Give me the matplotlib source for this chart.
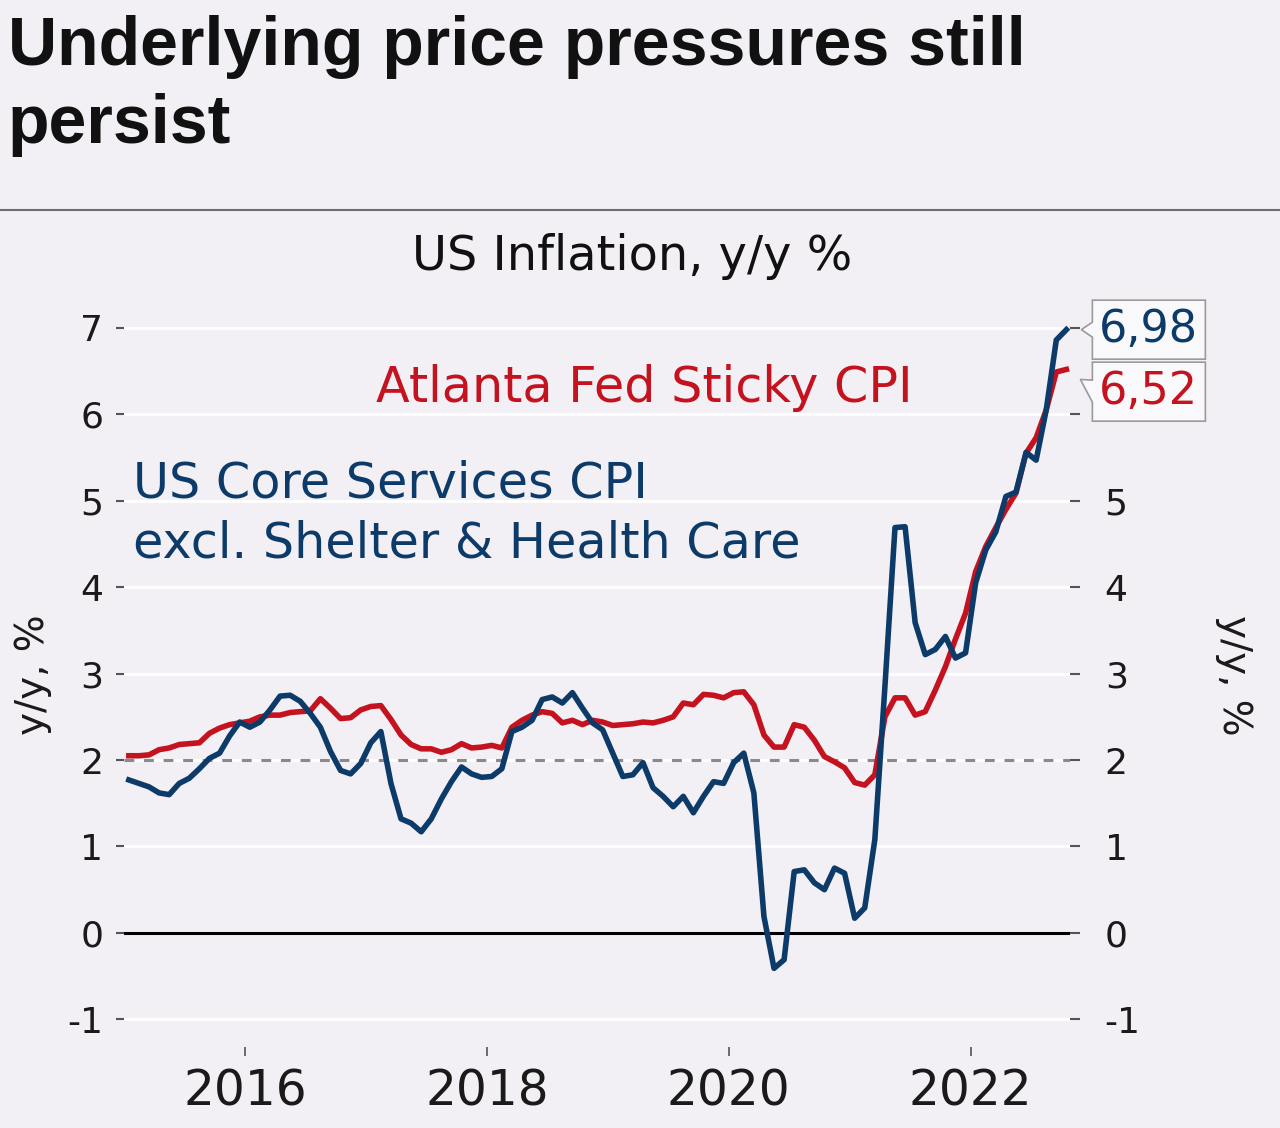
import numpy as np
import pandas as pd
import matplotlib
matplotlib.use('Agg')
import matplotlib.pyplot as plt
from matplotlib.patches import Polygon
from matplotlib.transforms import IdentityTransform

# monthly, Jan 2015 .. Oct 2022
dates = pd.date_range('2015-01-01', periods=94, freq='MS')

core_services = [
    1.77, 1.73, 1.69, 1.62, 1.60, 1.73, 1.79, 1.90, 2.02, 2.08, 2.28, 2.44,
    2.38, 2.44, 2.58, 2.74, 2.75, 2.68, 2.54, 2.38, 2.10, 1.88, 1.84, 1.96,
    2.20, 2.33, 1.73, 1.32, 1.27, 1.17, 1.32, 1.55, 1.75, 1.92, 1.84, 1.80,
    1.81, 1.90, 2.33, 2.38, 2.46, 2.70, 2.73, 2.66, 2.78, 2.60, 2.43, 2.35,
    2.08, 1.81, 1.83, 1.97, 1.68, 1.58, 1.46, 1.58, 1.39, 1.58, 1.75, 1.73,
    1.97, 2.08, 1.62, 0.19, -0.41, -0.31, 0.71, 0.73, 0.58, 0.50, 0.75, 0.69,
    0.17, 0.29, 1.08, 2.85, 4.69, 4.70, 3.59, 3.22, 3.28, 3.43, 3.18, 3.24,
    4.05, 4.43, 4.64, 5.05, 5.10, 5.56, 5.47, 6.05, 6.86, 6.98,
]
sticky_cpi = [
    2.05, 2.05, 2.06, 2.12, 2.14, 2.18, 2.19, 2.20, 2.31, 2.37, 2.41, 2.43,
    2.45, 2.50, 2.52, 2.52, 2.55, 2.56, 2.57, 2.71, 2.60, 2.48, 2.49, 2.58,
    2.62, 2.63, 2.47, 2.29, 2.18, 2.13, 2.13, 2.09, 2.12, 2.19, 2.14, 2.15,
    2.17, 2.14, 2.38, 2.46, 2.52, 2.56, 2.54, 2.43, 2.46, 2.41, 2.46, 2.44,
    2.40, 2.41, 2.42, 2.44, 2.43, 2.46, 2.50, 2.66, 2.64, 2.76, 2.75, 2.72,
    2.78, 2.79, 2.64, 2.29, 2.15, 2.15, 2.41, 2.38, 2.23, 2.04, 1.98, 1.91,
    1.74, 1.71, 1.83, 2.50, 2.72, 2.72, 2.52, 2.56, 2.81, 3.08, 3.40, 3.70,
    4.18, 4.47, 4.69, 4.90, 5.09, 5.55, 5.73, 6.05, 6.49, 6.52,
]
year_ticks = [2016, 2018, 2020, 2022]
y_ticks = [-1, 0, 1, 2, 3, 4, 5, 6, 7]

BG = '#f2f0f4'
BLUE = '#0d3b69'
RED = '#c4121f'
W, H = 1280, 1128

plt.rcParams['font.family'] = 'DejaVu Sans'
plt.rcParams['axes.unicode_minus'] = False

x = dates.year + (dates.month - 1) / 12 + 0.04

fig = plt.figure(figsize=(W / 100, H / 100), dpi=100, facecolor=BG)
ax = fig.add_axes([124 / W, 1 - 1047 / H, 946 / W, 745 / H], facecolor=BG)
ax.set_axisbelow(True)

for s in ax.spines.values():
    s.set_visible(False)

ax.set_xlim(2015.0, 2022.82)
ax.set_ylim(-1.32, 7.3)
ax.set_yticks(y_ticks)
ax.set_xticks(year_ticks)
ax.set_xticklabels([str(y) for y in year_ticks])
ax.grid(axis='y', color='white', lw=2.0)
ax.tick_params(axis='x', length=6.5, width=1.2, color='#555555', pad=8.5,
               labelsize=35, labelcolor='#1a1a1a')
ax.tick_params(axis='y', length=6, width=1.5, color='#555555', pad=9,
               labelsize=26, labelcolor='#1a1a1a')

ax.axhline(2, color='#8a8a8a', lw=2.2, ls=(0, (3.2, 3.2)), zorder=2)
ax.axhline(0, color='black', lw=2.2, zorder=2)

ax.plot(x, sticky_cpi, color=RED, lw=4, zorder=3, solid_joinstyle='round')
ax.plot(x, core_services, color=BLUE, lw=4, zorder=4, solid_joinstyle='round')

# right axis: labels under the callout boxes are hidden, as in the source
ax2 = ax.twinx()
ax2.set_ylim(ax.get_ylim())
ax2.set_yticks(y_ticks)
ax2.set_yticklabels(['' if t >= 6 else f'{t}' for t in y_ticks])
for s in ax2.spines.values():
    s.set_visible(False)
ax2.tick_params(axis='y', length=7, width=1.5, color='#555555', pad=18,
                labelsize=26, labelcolor='#1a1a1a')

# titles
fig.text(8 / W, 1 - 65 / H, 'Underlying price pressures still', fontsize=49,
         fontweight='bold', family='Liberation Sans', va='baseline', color='#111111')
fig.text(8 / W, 1 - 143 / H, 'persist', fontsize=49,
         fontweight='bold', family='Liberation Sans', va='baseline', color='#111111')
fig.add_artist(plt.Line2D([0, 1], [1 - 210 / H] * 2, color='#6e6e6e', lw=1.5))
fig.text(632 / W, 1 - 270 / H, 'US Inflation, y/y %', fontsize=34.5,
         ha='center', va='baseline', color='#111111')

fig.text(33 / W, 1 - 675 / H, 'y/y, %', fontsize=28, rotation=90,
         ha='center', va='center', color='#1a1a1a')
fig.text(1234 / W, 1 - 675 / H, 'y/y, %', fontsize=28, rotation=270,
         ha='center', va='center', color='#1a1a1a')

# series labels
fig.text(376 / W, 1 - 402 / H, 'Atlanta Fed Sticky CPI', fontsize=35.5,
         color=RED, va='baseline')
fig.text(133 / W, 1 - 498 / H, 'US Core Services CPI', fontsize=35.5,
         color=BLUE, va='baseline')
fig.text(133 / W, 1 - 557 / H, 'excl. Shelter & Health Care', fontsize=35.5,
         color=BLUE, va='baseline')

# end-value callouts
fig.canvas.draw()
bw, bh = 113, 59
bx, by = ax.transData.transform((x[-1], core_services[-1]))
left = bx + 26
top = by + bh / 2
boxes = [
    (core_services[-1], BLUE, top, (bx + 15, by), (top - 22, top - 37)),
]
rx, ry = ax.transData.transform((x[-1], sticky_cpi[-1]))
top2 = top - bh - 3
boxes.append((sticky_cpi[-1], RED, top2, (rx + 14, ry - 10), (top2 - 18, top2 - 40)))

for val, col, t, tip, (b1, b2) in boxes:
    bot = t - bh
    verts = [(left, t), (left + bw, t), (left + bw, bot), (left, bot),
             (left, b2), tip, (left, b1)]
    fig.add_artist(Polygon(verts, closed=True, facecolor='#f9f9fb',
                           edgecolor='#9a9a9a', lw=1.2,
                           transform=IdentityTransform(), zorder=5))
    fig.text((left + bw / 2) / W, (t - bh / 2) / H,
             f'{val:.2f}'.replace('.', ','), fontsize=32, color=col,
             ha='center', va='center', zorder=6)

fig.savefig('out.png', dpi=100, facecolor=BG)
